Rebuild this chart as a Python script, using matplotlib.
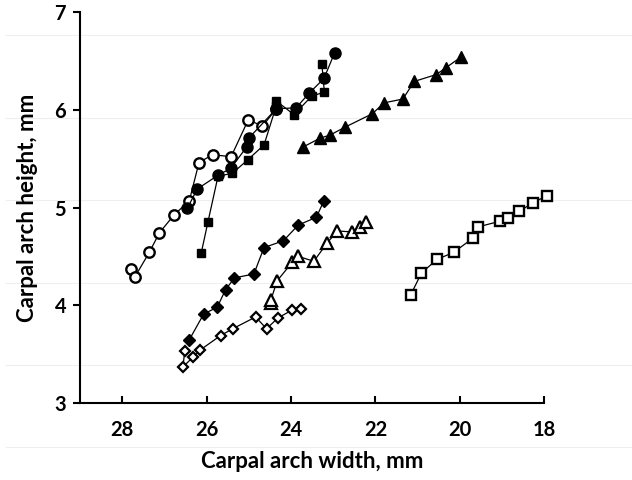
import matplotlib.pyplot as plt
from matplotlib.lines import Line2D

# carpal arch width / height for each specimen (mm)
open_circle_w = [27.80, 27.70, 27.36, 27.12, 26.78, 26.41, 26.18, 25.86, 25.42, 25.01, 24.68, 24.35]
open_circle_h = [4.37, 4.29, 4.54, 4.74, 4.92, 5.07, 5.46, 5.54, 5.52, 5.90, 5.83, 6.01]

filled_circle_w = [26.46, 26.22, 25.73, 25.43, 25.05, 25.00, 24.35, 23.88, 23.57, 23.22, 22.97]
filled_circle_h = [4.99, 5.19, 5.33, 5.40, 5.62, 5.71, 6.01, 6.02, 6.17, 6.32, 6.58]

filled_square_w = [26.13, 25.97, 25.73, 25.39, 25.02, 24.64, 24.35, 24.35, 23.93, 23.51, 23.21, 23.27]
filled_square_h = [4.53, 4.85, 5.32, 5.35, 5.49, 5.64, 6.04, 6.09, 5.95, 6.14, 6.18, 6.47]

filled_triangle_w = [23.71, 23.31, 23.08, 22.73, 22.07, 21.80, 21.35, 21.08, 20.56, 20.33, 19.97]
filled_triangle_h = [5.62, 5.71, 5.74, 5.82, 5.96, 6.07, 6.11, 6.29, 6.36, 6.43, 6.54]

filled_diamond_w = [26.42, 26.07, 25.75, 25.55, 25.34, 24.88, 24.64, 24.18, 23.83, 23.40, 23.22]
filled_diamond_h = [3.64, 3.91, 3.98, 4.16, 4.28, 4.32, 4.59, 4.66, 4.82, 4.90, 5.07]

open_diamond_w = [26.52, 26.56, 26.32, 26.16, 25.67, 25.38, 24.84, 24.58, 24.31, 23.98, 23.77]
open_diamond_h = [3.53, 3.37, 3.47, 3.54, 3.69, 3.76, 3.88, 3.76, 3.87, 3.95, 3.96]

open_triangle_w = [24.47, 24.48, 24.33, 23.97, 23.83, 23.46, 23.14, 22.90, 22.55, 22.37, 22.23]
open_triangle_h = [4.02, 4.05, 4.25, 4.44, 4.50, 4.45, 4.64, 4.76, 4.75, 4.80, 4.85]

open_square_w = [21.16, 20.91, 20.54, 20.15, 19.68, 19.58, 19.05, 18.85, 18.59, 18.27, 17.93]
open_square_h = [4.11, 4.33, 4.47, 4.54, 4.69, 4.80, 4.86, 4.89, 4.96, 5.05, 5.12]

x_ticks = [28, 26, 24, 22, 20, 18]
y_ticks = [3, 4, 5, 6, 7]

plt.rcParams["font.family"] = ["Lato", "DejaVu Sans"]
plt.rcParams["font.weight"] = "bold"

fig = plt.figure(figsize=(6.32, 4.8), dpi=100)
ax = fig.add_axes([0.1266, 0.1604, 0.7346, 0.8146])
ax.set_facecolor("none")

# faint scan lines across the page
for py in [35, 118, 200, 283, 365, 447]:
    fig.add_artist(Line2D([0.01, 1.0], [1 - py / 480, 1 - py / 480],
                          color="#eeeeee", lw=0.8, zorder=0))

line_kw = dict(color="black", lw=0.9, clip_on=False)

# open series first so the filled ones sit on top
ax.plot(open_circle_w, open_circle_h, marker="o", ms=7.5, mfc="white",
        mec="black", mew=1.7, **line_kw)
ax.plot(open_diamond_w, open_diamond_h, marker="D", ms=5.2, mfc="white",
        mec="black", mew=1.6, **line_kw)
ax.plot(open_triangle_w, open_triangle_h, marker="^", ms=8, mfc="white",
        mec="black", mew=1.6, **line_kw)
ax.plot(open_square_w, open_square_h, marker="s", ms=6.5, mfc="white",
        mec="black", mew=1.7, **line_kw)

ax.plot(filled_square_w, filled_square_h, marker="s", ms=5.5, mfc="black",
        mec="black", **line_kw)
ax.plot(filled_circle_w, filled_circle_h, marker="o", ms=8, mfc="black",
        mec="black", **line_kw)
ax.plot(filled_triangle_w, filled_triangle_h, marker="^", ms=8.5, mfc="black",
        mec="black", **line_kw)
ax.plot(filled_diamond_w, filled_diamond_h, marker="D", ms=6, mfc="black",
        mec="black", **line_kw)

# axes: width decreases to the right
ax.set_xlim(29, 18)
ax.set_ylim(3, 7)
ax.set_xticks(x_ticks)
ax.set_yticks(y_ticks)
ax.spines["top"].set_visible(False)
ax.spines["right"].set_visible(False)
ax.spines["left"].set_linewidth(1.5)
ax.spines["bottom"].set_linewidth(1.5)
ax.tick_params(axis="x", direction="in", length=5, width=1.5, pad=12,
               labelsize=14.5)
ax.tick_params(axis="y", direction="out", length=5, width=1.5, pad=5,
               labelsize=14.5)

ax.set_xlabel("Carpal arch width, mm", fontsize=16, fontweight="bold",
              labelpad=8)
ax.set_ylabel("Carpal arch height, mm", fontsize=16, fontweight="bold",
              labelpad=12)

fig.savefig("out.png", dpi=100)
